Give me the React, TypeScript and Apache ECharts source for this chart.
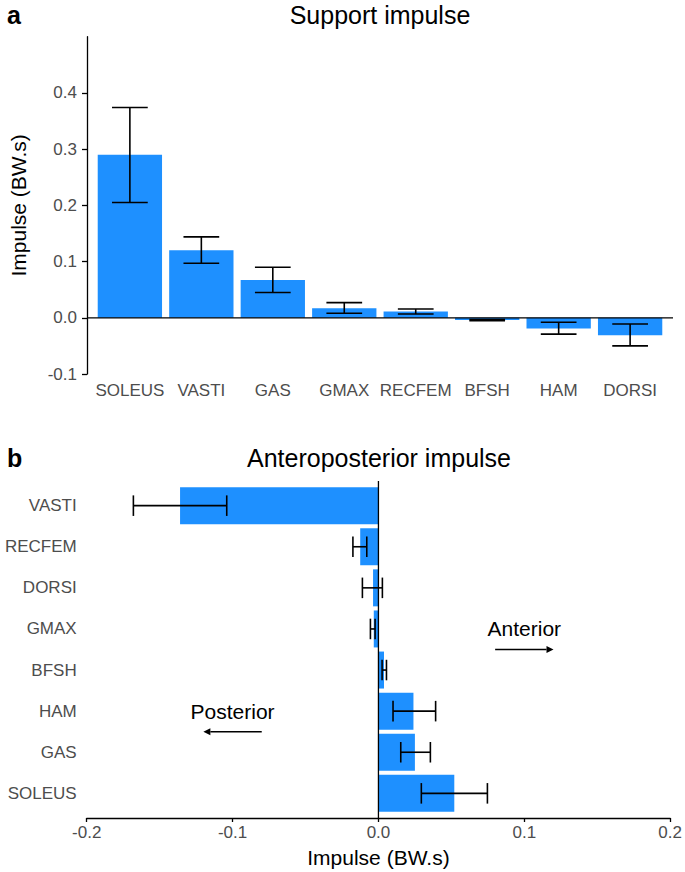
import React, { useEffect, useRef } from 'react';
import * as echarts from 'echarts';

// ---- Panel a: Support impulse ----
const supportMuscles = ['SOLEUS', 'VASTI', 'GAS', 'GMAX', 'RECFEM', 'BFSH', 'HAM', 'DORSI'];
const supportMean = [0.29, 0.12, 0.067, 0.017, 0.011, -0.004, -0.019, -0.031];
const supportLow = [0.205, 0.097, 0.045, 0.008, 0.0066, -0.0052, -0.029, -0.05];
const supportHigh = [0.374, 0.144, 0.09, 0.027, 0.0155, -0.003, -0.008, -0.011];
const supportTicks = [-0.1, 0, 0.1, 0.2, 0.3, 0.4];

// ---- Panel b: Anteroposterior impulse (listed bottom to top) ----
const apMuscles = ['SOLEUS', 'GAS', 'HAM', 'BFSH', 'GMAX', 'DORSI', 'RECFEM', 'VASTI'];
const apMean = [0.052, 0.025, 0.024, 0.0038, -0.0032, -0.0037, -0.0125, -0.136];
const apLow = [0.0294, 0.0153, 0.01, 0.0025, -0.0055, -0.011, -0.0175, -0.168];
const apHigh = [0.0747, 0.0356, 0.0392, 0.0055, -0.0023, 0.0027, -0.008, -0.104];
const apTicks = [-0.2, -0.1, 0, 0.1, 0.2];

const annotationTexts = ['Posterior', 'Anterior'];
const annotationX = [-0.1, 0.1];
const annotationY = [3, 5];
const arrowFrom = [-0.08, 0.08];
const arrowTo = [-0.12, 0.12];
const arrowY = [2.5, 4.5];

const FONT = '"Liberation Sans", Arial, sans-serif';
const BLUE = '#1E90FF';
const GREY = '#4D4D4D';
const catPositions = [1, 2, 3, 4, 5, 6, 7, 8];

export default function App() {
  const ref = useRef<HTMLDivElement>(null);
  useEffect(() => {
    document.body.style.margin = '0';
    if (!ref.current) return;
    const chart = echarts.init(ref.current, undefined, { renderer: 'svg' });

    const supportData = supportMuscles.map((_, k) => [k + 1, supportMean[k], supportLow[k], supportHigh[k]]);
    const apData = apMuscles.map((_, k) => [apMean[k], k + 1, apLow[k], apHigh[k]]);

    const option: any = {
      animation: false,
      backgroundColor: '#fff',
      title: [
        { text: 'a', left: 7, top: 2, padding: 0, textStyle: { fontFamily: FONT, fontSize: 25, fontWeight: 'bold', color: '#000' } },
        { text: 'Support impulse', left: 380, top: 2, padding: 0, textAlign: 'center', textStyle: { fontFamily: FONT, fontSize: 25, fontWeight: 'normal', color: '#000' } },
        { text: 'b', left: 7, top: 445, padding: 0, textStyle: { fontFamily: FONT, fontSize: 25, fontWeight: 'bold', color: '#000' } },
        { text: 'Anteroposterior impulse', left: 379, top: 445, padding: 0, textAlign: 'center', textStyle: { fontFamily: FONT, fontSize: 25, fontWeight: 'normal', color: '#000' } },
      ],
      grid: [
        { left: 86.5, right: 12, top: 36.7, height: 337.3 },
        { left: 86.7, right: 14.3, top: 481, height: 337 },
      ],
      xAxis: [
        {
          type: 'value', gridIndex: 0, min: 0.4, max: 8.6,
          axisLine: { show: false }, axisTick: { show: false }, splitLine: { show: false },
          axisLabel: {
            customValues: catPositions,
            formatter: (v: number) => supportMuscles[Math.round(v) - 1] || '',
            color: GREY, fontSize: 17, fontFamily: FONT, margin: 8,
          },
        },
        {
          type: 'value', gridIndex: 1, min: -0.2, max: 0.2, interval: 0.1,
          axisLine: { show: true, lineStyle: { color: '#000', width: 1.3 } },
          axisTick: { show: true, length: 4, customValues: apTicks, lineStyle: { color: '#000', width: 1.3 } },
          splitLine: { show: false },
          axisLabel: { customValues: apTicks, formatter: (v: number) => v.toFixed(1), color: GREY, fontSize: 17, fontFamily: FONT, margin: 6 },
          name: 'Impulse (BW.s)', nameLocation: 'middle', nameGap: 29,
          nameTextStyle: { fontSize: 21, fontFamily: FONT, color: '#000' },
        },
      ],
      yAxis: [
        {
          type: 'value', gridIndex: 0, min: -0.1, max: 0.5,
          axisLine: { show: true, lineStyle: { color: '#000', width: 1.3 } },
          axisTick: { show: true, length: 5, customValues: supportTicks, lineStyle: { color: '#000', width: 1.3 } },
          splitLine: { show: false },
          axisLabel: { customValues: supportTicks, formatter: (v: number) => v.toFixed(1), color: GREY, fontSize: 17, fontFamily: FONT, margin: 10 },
          name: 'Impulse (BW.s)', nameLocation: 'middle', nameGap: 58,
          nameTextStyle: { fontSize: 21, fontFamily: FONT, color: '#000' },
        },
        {
          type: 'value', gridIndex: 1, min: 0.4, max: 8.6,
          axisLine: { show: false }, axisTick: { show: false }, splitLine: { show: false },
          axisLabel: {
            customValues: catPositions,
            formatter: (v: number) => apMuscles[Math.round(v) - 1] || '',
            color: GREY, fontSize: 17, fontFamily: FONT, margin: 10,
          },
        },
      ],
      series: [
        // Panel a bars
        {
          type: 'custom', xAxisIndex: 0, yAxisIndex: 0, data: supportData, z: 2,
          encode: { x: 0, y: 1 },
          renderItem: (params: any, api: any) => {
            const i = api.value(0), v = api.value(1);
            const p0 = api.coord([i - 0.45, 0]);
            const p1 = api.coord([i + 0.45, v]);
            return {
              type: 'rect',
              shape: { x: p0[0], y: Math.min(p0[1], p1[1]), width: p1[0] - p0[0], height: Math.abs(p1[1] - p0[1]) },
              style: { fill: BLUE },
            };
          },
        },
        // Panel a error bars
        {
          type: 'custom', xAxisIndex: 0, yAxisIndex: 0, data: supportData, z: 3,
          encode: { x: 0, y: [2, 3] },
          renderItem: (params: any, api: any) => {
            const i = api.value(0), lo = api.value(2), hi = api.value(3);
            const a = api.coord([i, lo]);
            const b = api.coord([i, hi]);
            const l = api.coord([i - 0.25, lo])[0];
            const r = api.coord([i + 0.25, lo])[0];
            const st = { stroke: '#000', lineWidth: 1.6 };
            return {
              type: 'group',
              children: [
                { type: 'line', shape: { x1: a[0], y1: a[1], x2: b[0], y2: b[1] }, style: st },
                { type: 'line', shape: { x1: l, y1: a[1], x2: r, y2: a[1] }, style: st },
                { type: 'line', shape: { x1: l, y1: b[1], x2: r, y2: b[1] }, style: st },
              ],
            };
          },
        },
        // Panel a zero line
        {
          type: 'line', xAxisIndex: 0, yAxisIndex: 0, data: [[0.4, 0], [8.6, 0]], z: 4,
          symbol: 'none', lineStyle: { color: '#000', width: 1.3 }, silent: true,
        },
        // Panel b bars
        {
          type: 'custom', xAxisIndex: 1, yAxisIndex: 1, data: apData, z: 2,
          encode: { x: 0, y: 1 },
          renderItem: (params: any, api: any) => {
            const v = api.value(0), j = api.value(1);
            const p0 = api.coord([0, j + 0.45]);
            const p1 = api.coord([v, j - 0.45]);
            return {
              type: 'rect',
              shape: { x: Math.min(p0[0], p1[0]), y: p0[1], width: Math.abs(p1[0] - p0[0]), height: p1[1] - p0[1] },
              style: { fill: BLUE },
            };
          },
        },
        // Panel b error bars
        {
          type: 'custom', xAxisIndex: 1, yAxisIndex: 1, data: apData, z: 3,
          encode: { x: [2, 3], y: 1 },
          renderItem: (params: any, api: any) => {
            const j = api.value(1), lo = api.value(2), hi = api.value(3);
            const a = api.coord([lo, j]);
            const b = api.coord([hi, j]);
            const t = api.coord([lo, j + 0.25])[1];
            const bt = api.coord([lo, j - 0.25])[1];
            const st = { stroke: '#000', lineWidth: 1.6 };
            return {
              type: 'group',
              children: [
                { type: 'line', shape: { x1: a[0], y1: a[1], x2: b[0], y2: b[1] }, style: st },
                { type: 'line', shape: { x1: a[0], y1: t, x2: a[0], y2: bt }, style: st },
                { type: 'line', shape: { x1: b[0], y1: t, x2: b[0], y2: bt }, style: st },
              ],
            };
          },
        },
        // Panel b zero line
        {
          type: 'line', xAxisIndex: 1, yAxisIndex: 1, data: [[0, 0.4], [0, 8.6]], z: 4,
          symbol: 'none', lineStyle: { color: '#000', width: 1.3 }, silent: true,
        },
        // Panel b annotations
        {
          type: 'custom', xAxisIndex: 1, yAxisIndex: 1, z: 5,
          data: annotationTexts.map((_, k) => [annotationX[k], annotationY[k], arrowFrom[k], arrowTo[k], arrowY[k]]),
          encode: { x: 0, y: 1 },
          renderItem: (params: any, api: any) => {
            const k = params.dataIndex;
            const tp = api.coord([api.value(0), api.value(1)]);
            const a = api.coord([api.value(2), api.value(4)]);
            const b = api.coord([api.value(3), api.value(4)]);
            const dir = b[0] > a[0] ? 1 : -1;
            const headLen = 7, headW = 3.5;
            return {
              type: 'group',
              children: [
                {
                  type: 'text', x: tp[0], y: tp[1],
                  style: { text: annotationTexts[k], fontSize: 21, fontFamily: FONT, fill: '#000', align: 'center', verticalAlign: 'middle' },
                },
                { type: 'line', shape: { x1: a[0], y1: a[1], x2: b[0] - dir * headLen, y2: b[1] }, style: { stroke: '#000', lineWidth: 1.6 } },
                {
                  type: 'polygon',
                  shape: { points: [[b[0], b[1]], [b[0] - dir * headLen, b[1] - headW], [b[0] - dir * headLen, b[1] + headW]] },
                  style: { fill: '#000' },
                },
              ],
            };
          },
        },
      ],
    };
    chart.setOption(option);
    return () => chart.dispose();
  }, []);
  return <div ref={ref} style={{ width: 685, height: 872 }} />;
}
